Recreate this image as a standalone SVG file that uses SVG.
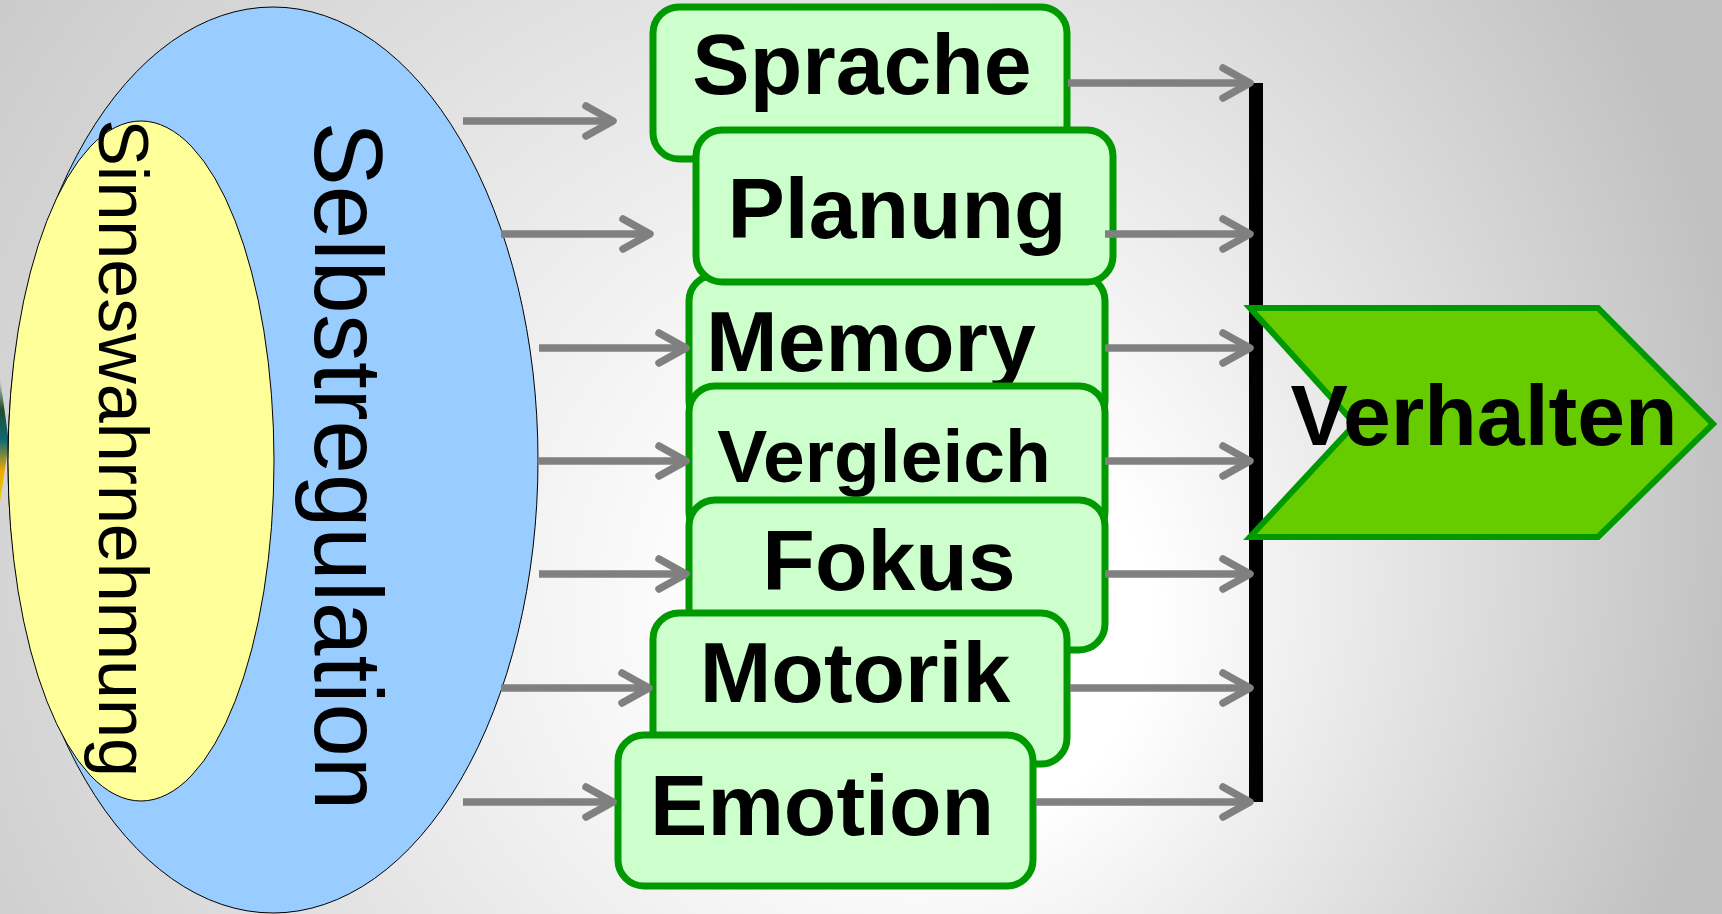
<svg xmlns="http://www.w3.org/2000/svg" width="1722" height="914" viewBox="0 0 1722 914">
  <defs>
    <radialGradient id="bg" gradientUnits="userSpaceOnUse" cx="700" cy="500" r="1050" fx="1000" fy="650">
      <stop offset="0" stop-color="#ffffff"/>
      <stop offset="0.2" stop-color="#ffffff"/>
      <stop offset="1" stop-color="#c0c0c0"/>
    </radialGradient>
    <linearGradient id="sliver" x1="0" y1="0" x2="0" y2="1">
      <stop offset="0" stop-color="#d8d8d8"/>
      <stop offset="0.25" stop-color="#1f4f2a"/>
      <stop offset="0.5" stop-color="#0d6a78"/>
      <stop offset="0.75" stop-color="#f0a800"/>
      <stop offset="1" stop-color="#e8d000"/>
    </linearGradient>
    <marker id="arrow" markerUnits="userSpaceOnUse" markerWidth="44" markerHeight="44" viewBox="-36 -22 44 44" refX="0" refY="0" orient="auto">
      <path d="M -27 -15 L 0 0 L -27 15" fill="none" stroke="#808080" stroke-width="7.5" stroke-linecap="round" stroke-linejoin="round"/>
    </marker>
    <style>
      .box { fill: #ccffcc; stroke: #009900; stroke-width: 7; }
      .lbl { font-family: "Liberation Sans", Arial, sans-serif; font-weight: bold; font-size: 86px; fill: #000; text-anchor: middle; }
      .small { font-size: 75px; }
      .vert { font-family: "Liberation Sans", Arial, sans-serif; fill: #000; text-anchor: middle; }
      .conn { fill: none; stroke: #808080; stroke-width: 7.5; marker-end: url(#arrow); }
    </style>
  </defs>

  <!-- background -->
  <rect x="0" y="0" width="1722" height="914" fill="url(#bg)"/>

  <!-- clipped picture fragment at the left margin -->
  <polygon points="0,378 9,442 0,502" fill="url(#sliver)"/>

  <!-- outer ellipse: self-regulation -->
  <g id="selbstregulation">
    <ellipse cx="273" cy="460" rx="265" ry="453" fill="#99ccff" stroke="#000" stroke-width="1"/>
    <text class="vert" font-size="96" transform="translate(315,466) rotate(90)">Selbstregulation</text>
  </g>

  <!-- inner ellipse: sensory perception -->
  <g id="sinneswahrnehmung">
    <ellipse cx="141" cy="461" rx="133" ry="340" fill="#ffff99" stroke="#000" stroke-width="1"/>
    <text class="vert" font-size="70" transform="translate(99,448) rotate(90)">Sinneswahrnehmung</text>
  </g>

  <!-- function boxes, stacked -->
  <g id="sprache">
    <rect class="box" x="653" y="7" width="414" height="152" rx="26"/>
    <text class="lbl" x="862" y="94">Sprache</text>
  </g>
  <g id="memory">
    <rect class="box" x="689" y="275" width="416" height="152" rx="26"/>
    <text class="lbl" x="871" y="371">Memory</text>
  </g>
  <g id="planung">
    <rect class="box" x="696" y="130" width="417" height="152" rx="26"/>
    <text class="lbl" x="897" y="238">Planung</text>
  </g>
  <g id="vergleich">
    <rect class="box" x="689" y="386" width="416" height="152" rx="26"/>
    <text class="lbl small" x="884" y="482">Vergleich</text>
  </g>
  <g id="fokus">
    <rect class="box" x="689" y="500" width="416" height="150" rx="26"/>
    <text class="lbl" x="889" y="590">Fokus</text>
  </g>
  <g id="motorik">
    <rect class="box" x="653" y="613" width="414" height="151" rx="26"/>
    <text class="lbl" x="855" y="702">Motorik</text>
  </g>
  <g id="emotion">
    <rect class="box" x="618" y="735" width="415" height="151" rx="26"/>
    <text class="lbl" x="822" y="835">Emotion</text>
  </g>

  <!-- collecting bar -->
  <g id="sammelbalken">
    <rect x="1249" y="83" width="14" height="719" fill="#000"/>
  </g>

  <!-- result -->
  <g id="verhalten">
    <polygon points="1250,308 1598,308 1713,424 1598,537 1250,537 1355,424" fill="#66cc00" stroke="#009900" stroke-width="6"/>
    <text class="lbl" x="1484" y="445">Verhalten</text>
  </g>

  <!-- connectors -->
  <g id="connectors">
    <line class="conn" x1="463" y1="121" x2="613" y2="121"/>
    <line class="conn" x1="501" y1="234" x2="650" y2="234"/>
    <line class="conn" x1="539" y1="348" x2="686" y2="348"/>
    <line class="conn" x1="539" y1="461" x2="686" y2="461"/>
    <line class="conn" x1="539" y1="574" x2="686" y2="574"/>
    <line class="conn" x1="501" y1="688" x2="649" y2="688"/>
    <line class="conn" x1="463" y1="802" x2="613" y2="802"/>

    <line class="conn" x1="1068" y1="83" x2="1250" y2="83"/>
    <line class="conn" x1="1105" y1="234" x2="1250" y2="234"/>
    <line class="conn" x1="1105" y1="348" x2="1250" y2="348"/>
    <line class="conn" x1="1105" y1="461" x2="1250" y2="461"/>
    <line class="conn" x1="1105" y1="574" x2="1250" y2="574"/>
    <line class="conn" x1="1070" y1="688" x2="1250" y2="688"/>
    <line class="conn" x1="1036" y1="802" x2="1250" y2="802"/>
  </g>
</svg>
